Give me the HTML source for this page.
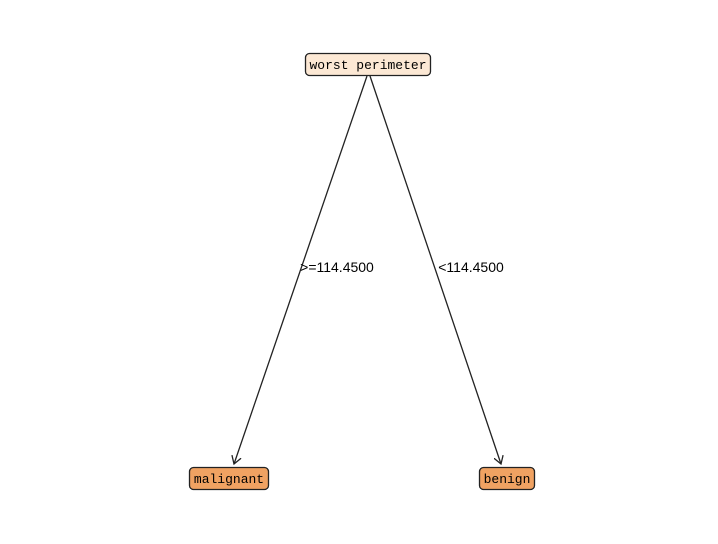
<!DOCTYPE html>
<html><head><style>
html,body{margin:0;padding:0;background:#fff;}
</style></head><body>
<svg width="718" height="539" xmlns="http://www.w3.org/2000/svg" font-family="'Liberation Mono','WenQuanYi Zen Hei',monospace" font-size="13">
<defs><marker id="a" markerWidth="10" markerHeight="10" refX="8" refY="5" orient="auto" markerUnits="userSpaceOnUse"><path d="M0,0 L8,5 L0,10" fill="none" stroke="#222" stroke-width="1.3"/></marker></defs>
<line x1="367" y1="76" x2="234" y2="464" stroke="#222" stroke-width="1.3" marker-end="url(#a)"/>
<line x1="370" y1="76" x2="501" y2="464" stroke="#222" stroke-width="1.3" marker-end="url(#a)"/>
<rect x="305.5" y="53.5" width="125" height="22" rx="4" fill="#fce8d4" stroke="#222" stroke-width="1.3"/>
<text x="368" y="69" text-anchor="middle">worst perimeter</text>
<rect x="189.5" y="467.5" width="79" height="22" rx="4" fill="#f0a262" stroke="#222" stroke-width="1.3"/>
<text x="229" y="483" text-anchor="middle">malignant</text>
<rect x="479.5" y="467.5" width="55" height="22" rx="4" fill="#f0a262" stroke="#222" stroke-width="1.3"/>
<text x="507" y="483" text-anchor="middle">benign</text>
<text x="337" y="272" text-anchor="middle" font-family="'Liberation Sans',sans-serif" font-size="14">&gt;=114.4500</text>
<text x="471" y="272" text-anchor="middle" font-family="'Liberation Sans',sans-serif" font-size="14">&lt;114.4500</text>
</svg>
</body></html>
